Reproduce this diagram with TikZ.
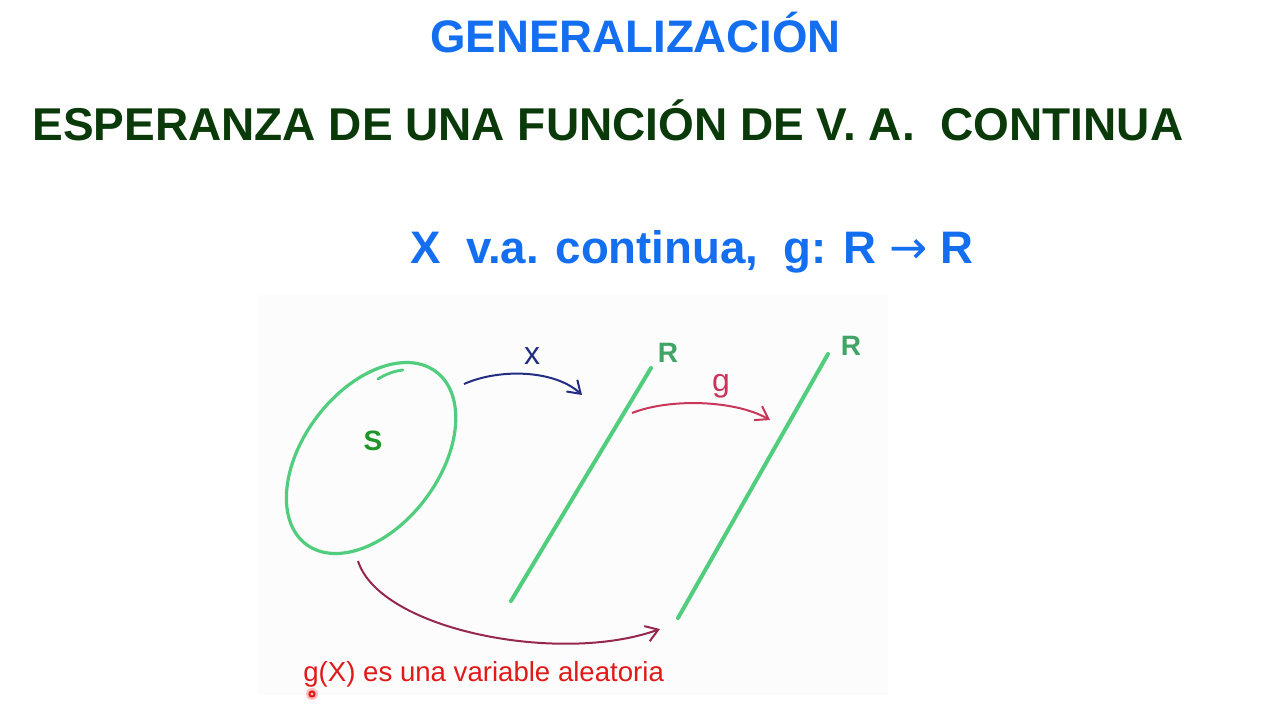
\documentclass[tikz,border=0pt]{standalone}
\usepackage{fontspec}
\setmainfont{Liberation Sans}
\newfontfamily\djv{DejaVu Sans}
\usetikzlibrary{arrows.meta}
\definecolor{titleblue}{RGB}{20,110,240}
\definecolor{darkgreen}{RGB}{10,58,10}
\definecolor{penggreen}{RGB}{80,205,125}
\definecolor{sgreen}{RGB}{30,150,40}
\definecolor{navy}{RGB}{35,45,130}
\definecolor{gcrim}{RGB}{200,55,90}
\definecolor{maroon}{RGB}{150,40,80}
\definecolor{txtred}{RGB}{225,25,25}
\tikzset{
  head/.style={anchor=base west,inner sep=0pt,font=\fontsize{22.8}{27}\selectfont\bfseries},
  pen/.style={draw=penggreen,line width=2pt,line cap=round,line join=round},
  curvearrow/.style={line width=1pt,-{Straight Barb[length=6pt,width=8pt]}},
  handlbl/.style={inner sep=0pt,font=\fontsize{16}{18}\selectfont}
}
\begin{document}
\begin{tikzpicture}[x=0.5pt,y=-0.5pt]
\useasboundingbox (0,0) rectangle (1280,720);
\fill[white!99!black] (258,295) rectangle (888,695);
% headings
\node[head,text=titleblue] (t1) at (430,52) {GENERALIZACIÓN};
\node[head,text=darkgreen,font=\fontsize{23}{27}\selectfont\bfseries] (t2) at (32,140) {ESPERANZA DE UNA FUNCIÓN DE V. A.\ \ CONTINUA};
\node[head,text=titleblue] (t3) at (410,263) {X\ \ v.a. continua,\ \ g: R {\djv\mdseries →} R};
% set S
\coordinate (sc) at (371,458);
\draw[pen,line width=1.6pt,rotate around={53:(sc)}] (sc) ellipse [x radius=108, y radius=68];
\draw[pen,line width=1.4pt] (378,379) .. controls (386,374) and (394,371) .. (403,370);
\node[font=\fontsize{14}{16}\selectfont\bfseries,text=sgreen] (S) at (373,441) {S};
% real lines
\coordinate (r1a) at (651,368); \coordinate (r1b) at (511,601);
\coordinate (r2a) at (828,354); \coordinate (r2b) at (678,618);
\draw[pen] (r1a) -- (r1b);
\draw[pen] (r2a) -- (r2b);
\node[font=\fontsize{14}{16}\selectfont\bfseries,text=penggreen!80!black] (R1) at (668,353) {R};
\node[font=\fontsize{14}{16}\selectfont\bfseries,text=penggreen!80!black] (R2) at (851,346) {R};
% arrows
\coordinate (xs) at (464,384); \coordinate (xe) at (582,395);
\draw[curvearrow,navy] (xs) .. controls (500,368) and (555,370) .. (xe);
\node[handlbl,text=navy] (xl) at (532,356) {x};
\coordinate (gs) at (632,413); \coordinate (ge) at (770,420);
\draw[curvearrow,gcrim] (gs) .. controls (670,398) and (735,400) .. (ge);
\node[handlbl,text=gcrim] (gl) at (721,386) {g};
\coordinate (bs) at (358,561); \coordinate (be) at (660,629);
\draw[curvearrow,maroon] (bs) .. controls (380,630) and (560,665) .. (be);
% bottom text
\node[anchor=base west,inner sep=0pt,font=\fontsize{13.8}{16}\selectfont,text=txtred] (bt) at (303,681) {g(X) es una variable aleatoria};
\fill[red!25] (312,694) circle (6);
\draw[txtred,line width=1pt] (312,694) circle (2.6);
\end{tikzpicture}
\end{document}
